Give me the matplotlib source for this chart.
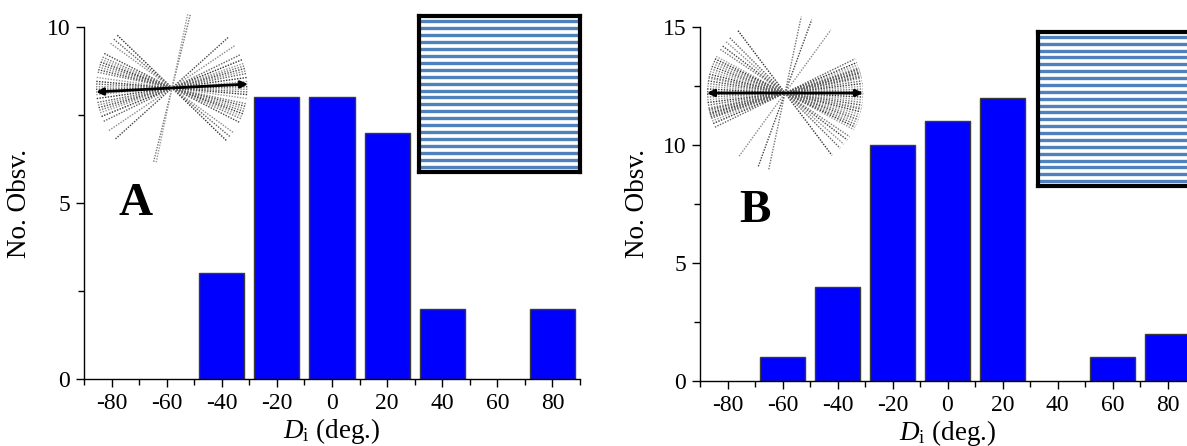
import numpy as np
import matplotlib
matplotlib.use("Agg")
import matplotlib.pyplot as plt
from matplotlib.ticker import MultipleLocator

# ---------------- data ----------------
bin_centers = [-80, -60, -40, -20, 0, 20, 40, 60, 80]
counts_A = [0, 0, 3, 8, 8, 7, 2, 0, 2]
counts_B = [0, 1, 4, 10, 11, 12, 0, 1, 2]
xtick_values = [-80, -60, -40, -20, 0, 20, 40, 60, 80]
panel_labels = ["A", "B"]
ylims = [10, 15]

# orientations (deg) of the individual lines in the star-burst insets
angles_A = [-44, -40, -36,
            -27, -24, -22, -20, -18, -16, -14, -12,
            -8, -5, -3, -1, 1, 3, 5, 8,
            11, 13, 15, 17, 19, 22, 26,
            34, 42,
            76, 78]
angles_B = [-53,
            -45, -41, -37, -34,
            -28, -26, -24, -22, -20, -18, -16, -14, -12, -11,
            -9, -7, -5, -3, -1, 0, 1, 3, 5, 7, 9,
            11, 12, 13, 14, 15, 16, 17, 18, 19, 21, 23, 26,
            54,
            70, 78]
arrow_angle_A = 3
arrow_angle_B = 0
n_stripes = 22

# ---------------- style ----------------
plt.rcParams["font.family"] = ["Liberation Serif", "DejaVu Serif"]
plt.rcParams["mathtext.fontset"] = "custom"
plt.rcParams["mathtext.rm"] = "Liberation Serif"
plt.rcParams["mathtext.it"] = "Liberation Serif:italic"
plt.rcParams["axes.unicode_minus"] = False

W, H = 1187, 446
fig = plt.figure(figsize=(W / 100, H / 100), dpi=100)


def px_axes(l, t, r, b):
    return fig.add_axes([l / W, 1 - b / H, (r - l) / W, (b - t) / H])


def draw_hist(ax, counts, ymax, label, lab_xy, ylab_x):
    xs = [c for c, n in zip(bin_centers, counts) if n > 0]
    ns = [n for n in counts if n > 0]
    ax.bar(xs, ns, width=16.4, color="#0000FF", edgecolor="#3a3a3a",
           linewidth=1.0, zorder=2)
    ax.set_xlim(-90, 90)
    ax.set_ylim(0, ymax)
    for s in ("top", "right"):
        ax.spines[s].set_visible(False)
    for s in ("left", "bottom"):
        ax.spines[s].set_linewidth(1.0)
    ax.set_xticks(xtick_values)
    ax.xaxis.set_minor_locator(MultipleLocator(10))
    ax.yaxis.set_major_locator(MultipleLocator(5))
    ax.yaxis.set_minor_locator(MultipleLocator(2.5))
    ax.tick_params(which="major", direction="out", length=6, width=1,
                   labelsize=17, pad=4)
    ax.tick_params(which="minor", direction="out", length=4, width=1)
    ax.set_ylabel("No. Obsv.", fontsize=19.5)
    ax.yaxis.set_label_coords(ylab_x, 0.5)
    ax.set_xlabel(r"$D_{\mathrm{i}}$ (deg.)", fontsize=19.5)
    ax.xaxis.set_label_coords(0.5, -0.105)
    ax.text(lab_xy[0], lab_xy[1], label, transform=ax.transAxes,
            fontsize=34, fontweight="bold", ha="center", va="baseline")


def draw_star(cx, cy, R, angles, arrow_angle, L):
    a = px_axes(cx - R, cy - R, cx + R, cy + R)
    a.set_xlim(-R, R)
    a.set_ylim(-R, R)
    a.axis("off")
    shades = ["#303030", "#606060", "#8a8a8a", "#454545", "#757575", "#9a9a9a"]
    for i, ang in enumerate(angles):
        t = np.radians(ang)
        a.plot([-L * np.cos(t), L * np.cos(t)], [-L * np.sin(t), L * np.sin(t)],
               color=shades[i % len(shades)], lw=1.0, ls=(0, (1, 1)))
    t = np.radians(arrow_angle)
    a.annotate("", xy=(L * np.cos(t), L * np.sin(t)),
               xytext=(-L * np.cos(t), -L * np.sin(t)),
               arrowprops=dict(arrowstyle="<|-|>", lw=2.0, color="black",
                               mutation_scale=10, shrinkA=0, shrinkB=0))


def draw_stripes(l, t, r, b):
    a = px_axes(l, t, r, b)
    a.set_xlim(0, 1)
    a.set_ylim(0.3, n_stripes + 0.7)
    a.set_xticks([])
    a.set_yticks([])
    for s in a.spines.values():
        s.set_linewidth(3.0)
        s.set_color("black")
    for k in range(n_stripes):
        a.axhline(k + 1, xmin=0.015, xmax=0.985, color="#4F81BD", lw=2.4)


axA = px_axes(84, 27, 580, 379)
draw_hist(axA, counts_A, ylims[0], panel_labels[0], (0.103, 0.466), -0.105)
axB = px_axes(700, 27, 1195, 381)
draw_hist(axB, counts_B, ylims[1], panel_labels[1], (0.111, 0.45), -0.101)

draw_star(172, 88, 86, angles_A, arrow_angle_A, 76)
draw_star(785, 93, 88, angles_B, arrow_angle_B, 78)

draw_stripes(419, 16, 580, 172)
draw_stripes(1038, 32, 1200, 186)

fig.savefig("out.png", dpi=100)
